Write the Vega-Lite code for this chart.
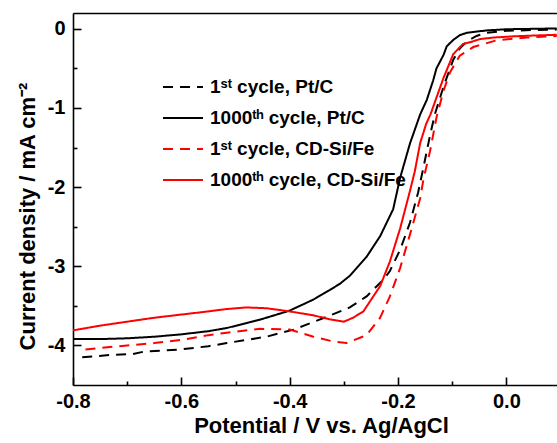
{
  "$schema": "https://vega.github.io/schema/vega-lite/v6.json",
  "autosize": "none",
  "width": 484,
  "height": 372,
  "padding": {"left": 73, "top": 13, "right": 0, "bottom": 58},
  "background": "white",
  "config": {
    "view": {"stroke": null},
    "font": "Liberation Sans",
    "axis": {
      "domainColor": "black", "domainWidth": 1.6, "tickColor": "black", "tickWidth": 1.6,
      "grid": false, "labelFont": "Liberation Sans", "labelFontWeight": "bold", "labelColor": "black",
      "titleFont": "Liberation Sans", "titleFontWeight": "bold", "titleColor": "black", "labelFlush": false
    },
    "legend": {"labelFont": "Liberation Sans", "labelFontWeight": "bold", "labelColor": "black"}
  },
  "data": {"values": [
    {"s": "1000th", "x": -0.80, "y": -3.92},
    {"s": "1000th", "x": -0.75, "y": -3.92},
    {"s": "1000th", "x": -0.70, "y": -3.91},
    {"s": "1000th", "x": -0.65, "y": -3.89},
    {"s": "1000th", "x": -0.60, "y": -3.86},
    {"s": "1000th", "x": -0.55, "y": -3.82},
    {"s": "1000th", "x": -0.516, "y": -3.78},
    {"s": "1000th", "x": -0.455, "y": -3.675},
    {"s": "1000th", "x": -0.40, "y": -3.56},
    {"s": "1000th", "x": -0.356, "y": -3.42},
    {"s": "1000th", "x": -0.326, "y": -3.30},
    {"s": "1000th", "x": -0.307, "y": -3.22},
    {"s": "1000th", "x": -0.289, "y": -3.12},
    {"s": "1000th", "x": -0.258, "y": -2.88},
    {"s": "1000th", "x": -0.233, "y": -2.62},
    {"s": "1000th", "x": -0.209, "y": -2.28},
    {"s": "1000th", "x": -0.196, "y": -1.88},
    {"s": "1000th", "x": -0.178, "y": -1.45},
    {"s": "1000th", "x": -0.159, "y": -1.08},
    {"s": "1000th", "x": -0.147, "y": -0.90},
    {"s": "1000th", "x": -0.135, "y": -0.65},
    {"s": "1000th", "x": -0.129, "y": -0.50},
    {"s": "1000th", "x": -0.116, "y": -0.33},
    {"s": "1000th", "x": -0.110, "y": -0.22},
    {"s": "1000th", "x": -0.098, "y": -0.14},
    {"s": "1000th", "x": -0.086, "y": -0.08},
    {"s": "1000th", "x": -0.073, "y": -0.05},
    {"s": "1000th", "x": -0.049, "y": -0.03},
    {"s": "1000th", "x": -0.036, "y": -0.02},
    {"s": "1000th", "x": 0.0, "y": -0.005},
    {"s": "1000th", "x": 0.05, "y": 0.0},
    {"s": "1000th", "x": 0.093, "y": 0.005},

    {"s": "1st", "x": -0.783, "y": -4.15},
    {"s": "1st", "x": -0.73, "y": -4.12},
    {"s": "1st", "x": -0.69, "y": -4.11},
    {"s": "1st", "x": -0.67, "y": -4.08},
    {"s": "1st", "x": -0.60, "y": -4.05},
    {"s": "1st", "x": -0.55, "y": -4.01},
    {"s": "1st", "x": -0.516, "y": -3.97},
    {"s": "1st", "x": -0.443, "y": -3.89},
    {"s": "1st", "x": -0.393, "y": -3.80},
    {"s": "1st", "x": -0.332, "y": -3.64},
    {"s": "1st", "x": -0.30, "y": -3.55},
    {"s": "1st", "x": -0.289, "y": -3.52},
    {"s": "1st", "x": -0.258, "y": -3.38},
    {"s": "1st", "x": -0.227, "y": -3.17},
    {"s": "1st", "x": -0.215, "y": -3.06},
    {"s": "1st", "x": -0.196, "y": -2.79},
    {"s": "1st", "x": -0.178, "y": -2.45},
    {"s": "1st", "x": -0.163, "y": -2.07},
    {"s": "1st", "x": -0.153, "y": -1.75},
    {"s": "1st", "x": -0.141, "y": -1.35},
    {"s": "1st", "x": -0.132, "y": -1.08},
    {"s": "1st", "x": -0.116, "y": -0.73},
    {"s": "1st", "x": -0.098, "y": -0.39},
    {"s": "1st", "x": -0.086, "y": -0.25},
    {"s": "1st", "x": -0.073, "y": -0.16},
    {"s": "1st", "x": -0.055, "y": -0.09},
    {"s": "1st", "x": -0.036, "y": -0.05},
    {"s": "1st", "x": 0.0, "y": -0.025},
    {"s": "1st", "x": 0.05, "y": -0.015},
    {"s": "1st", "x": 0.093, "y": -0.01},

    {"s": "1000th CD", "x": -0.80, "y": -3.81},
    {"s": "1000th CD", "x": -0.75, "y": -3.75},
    {"s": "1000th CD", "x": -0.70, "y": -3.70},
    {"s": "1000th CD", "x": -0.65, "y": -3.65},
    {"s": "1000th CD", "x": -0.60, "y": -3.61},
    {"s": "1000th CD", "x": -0.55, "y": -3.57},
    {"s": "1000th CD", "x": -0.516, "y": -3.54},
    {"s": "1000th CD", "x": -0.48, "y": -3.52},
    {"s": "1000th CD", "x": -0.443, "y": -3.53},
    {"s": "1000th CD", "x": -0.40, "y": -3.57},
    {"s": "1000th CD", "x": -0.356, "y": -3.62},
    {"s": "1000th CD", "x": -0.326, "y": -3.67},
    {"s": "1000th CD", "x": -0.30, "y": -3.70},
    {"s": "1000th CD", "x": -0.283, "y": -3.65},
    {"s": "1000th CD", "x": -0.264, "y": -3.57},
    {"s": "1000th CD", "x": -0.233, "y": -3.25},
    {"s": "1000th CD", "x": -0.215, "y": -2.94},
    {"s": "1000th CD", "x": -0.196, "y": -2.52},
    {"s": "1000th CD", "x": -0.178, "y": -2.05},
    {"s": "1000th CD", "x": -0.169, "y": -1.80},
    {"s": "1000th CD", "x": -0.159, "y": -1.44},
    {"s": "1000th CD", "x": -0.148, "y": -1.20},
    {"s": "1000th CD", "x": -0.140, "y": -1.08},
    {"s": "1000th CD", "x": -0.116, "y": -0.62},
    {"s": "1000th CD", "x": -0.098, "y": -0.32},
    {"s": "1000th CD", "x": -0.080, "y": -0.19},
    {"s": "1000th CD", "x": -0.067, "y": -0.17},
    {"s": "1000th CD", "x": -0.049, "y": -0.13},
    {"s": "1000th CD", "x": -0.024, "y": -0.11},
    {"s": "1000th CD", "x": 0.013, "y": -0.095},
    {"s": "1000th CD", "x": 0.05, "y": -0.085},
    {"s": "1000th CD", "x": 0.093, "y": -0.075},

    {"s": "1st CD", "x": -0.777, "y": -4.05},
    {"s": "1st CD", "x": -0.70, "y": -4.00},
    {"s": "1st CD", "x": -0.65, "y": -3.97},
    {"s": "1st CD", "x": -0.60, "y": -3.93},
    {"s": "1st CD", "x": -0.55, "y": -3.87},
    {"s": "1st CD", "x": -0.516, "y": -3.84},
    {"s": "1st CD", "x": -0.455, "y": -3.79},
    {"s": "1st CD", "x": -0.40, "y": -3.80},
    {"s": "1st CD", "x": -0.356, "y": -3.89},
    {"s": "1st CD", "x": -0.32, "y": -3.95},
    {"s": "1st CD", "x": -0.295, "y": -3.97},
    {"s": "1st CD", "x": -0.258, "y": -3.87},
    {"s": "1st CD", "x": -0.233, "y": -3.65},
    {"s": "1st CD", "x": -0.215, "y": -3.38},
    {"s": "1st CD", "x": -0.196, "y": -3.02},
    {"s": "1st CD", "x": -0.178, "y": -2.60},
    {"s": "1st CD", "x": -0.159, "y": -2.14},
    {"s": "1st CD", "x": -0.153, "y": -1.90},
    {"s": "1st CD", "x": -0.141, "y": -1.55},
    {"s": "1st CD", "x": -0.129, "y": -1.12},
    {"s": "1st CD", "x": -0.116, "y": -0.78},
    {"s": "1st CD", "x": -0.104, "y": -0.55},
    {"s": "1st CD", "x": -0.086, "y": -0.34},
    {"s": "1st CD", "x": -0.061, "y": -0.23},
    {"s": "1st CD", "x": -0.018, "y": -0.145},
    {"s": "1st CD", "x": 0.037, "y": -0.11},
    {"s": "1st CD", "x": 0.093, "y": -0.092}
  ]},
  "transform": [
    {"lookup": "s", "from": {"data": {"values": [
      {"s": "1st", "label": "1ˢᵗ cycle, Pt/C"},
      {"s": "1000th", "label": "1000ᵗʰ cycle, Pt/C"},
      {"s": "1st CD", "label": "1ˢᵗ cycle, CD-Si/Fe"},
      {"s": "1000th CD", "label": "1000ᵗʰ cycle, CD-Si/Fe"}
    ]}, "key": "s", "fields": ["label"]}}
  ],
  "layer": [
    {
      "mark": {"type": "line", "strokeWidth": 2, "clip": true},
      "encoding": {
        "x": {"field": "x", "type": "quantitative",
          "scale": {"domain": [-0.8, 0.0935], "nice": false, "zero": false},
          "axis": {"orient": "bottom", "values": [-0.8, -0.6, -0.4, -0.2, 0.0], "tickSize": -8, "labelPadding": 14,
            "labelFontSize": 20, "labelExpr": "replace(format(datum.value, '.1f'), '\u2212', '-')",
            "title": "Potential / V vs. Ag/AgCl", "titleFontSize": 22, "titlePadding": 4, "titleX": 248}},
        "y": {"field": "y", "type": "quantitative",
          "scale": {"domain": [-4.5, 0.2], "nice": false, "zero": false},
          "axis": {"orient": "left", "values": [0, -1, -2, -3, -4], "tickSize": -8, "labelPadding": 16,
            "labelFontSize": 20, "labelExpr": "replace(format(datum.value, 'd'), '\u2212', '-')",
            "title": "Current density / mA cm⁻²", "titleFontSize": 22, "titlePadding": 8, "titleY": 203}},
        "color": {"field": "label", "type": "nominal",
          "scale": {"domain": ["1ˢᵗ cycle, Pt/C", "1000ᵗʰ cycle, Pt/C", "1ˢᵗ cycle, CD-Si/Fe", "1000ᵗʰ cycle, CD-Si/Fe"],
                    "range": ["#000000", "#000000", "#ff0000", "#ff0000"]},
          "legend": {"title": null, "orient": "none", "legendX": 89, "legendY": 53, "symbolType": "stroke",
            "symbolSize": 1600, "symbolStrokeWidth": 2, "labelFontSize": 19, "labelOffset": 6, "rowPadding": -15, "padding": 0, "labelLimit": 400}},
        "strokeDash": {"field": "label", "type": "nominal",
          "scale": {"domain": ["1ˢᵗ cycle, Pt/C", "1000ᵗʰ cycle, Pt/C", "1ˢᵗ cycle, CD-Si/Fe", "1000ᵗʰ cycle, CD-Si/Fe"],
                    "range": [[10, 7], [1, 0], [10, 7], [1, 0]]},
          "legend": {"title": null, "orient": "none", "legendX": 89, "legendY": 53, "symbolType": "stroke",
            "symbolSize": 1600, "symbolStrokeWidth": 2, "labelFontSize": 19, "labelOffset": 6, "rowPadding": -15, "padding": 0, "labelLimit": 400}}
      }
    },
    {
      "mark": {"type": "point", "opacity": 0},
      "encoding": {
        "x": {"field": "x", "type": "quantitative",
          "scale": {"domain": [-0.8, 0.0935], "nice": false, "zero": false},
          "axis": {"orient": "bottom", "values": [-0.7, -0.5, -0.3, -0.1], "tickSize": -4, "labels": false, "title": null, "domain": false}},
        "y": {"field": "y", "type": "quantitative",
          "scale": {"domain": [-4.5, 0.2], "nice": false, "zero": false},
          "axis": {"orient": "left", "values": [-0.5, -1.5, -2.5, -3.5], "tickSize": -4, "labels": false, "title": null, "domain": false}}
      }
    },
    {
      "mark": {"type": "point", "opacity": 0},
      "encoding": {
        "x": {"field": "x", "type": "quantitative",
          "scale": {"domain": [-0.8, 0.0935], "nice": false, "zero": false},
          "axis": {"orient": "top", "ticks": false, "labels": false, "title": null}},
        "y": {"field": "y", "type": "quantitative",
          "scale": {"domain": [-4.5, 0.2], "nice": false, "zero": false},
          "axis": null}
      }
    }
  ],
  "resolve": {"axis": {"x": "independent", "y": "independent"}}
}
